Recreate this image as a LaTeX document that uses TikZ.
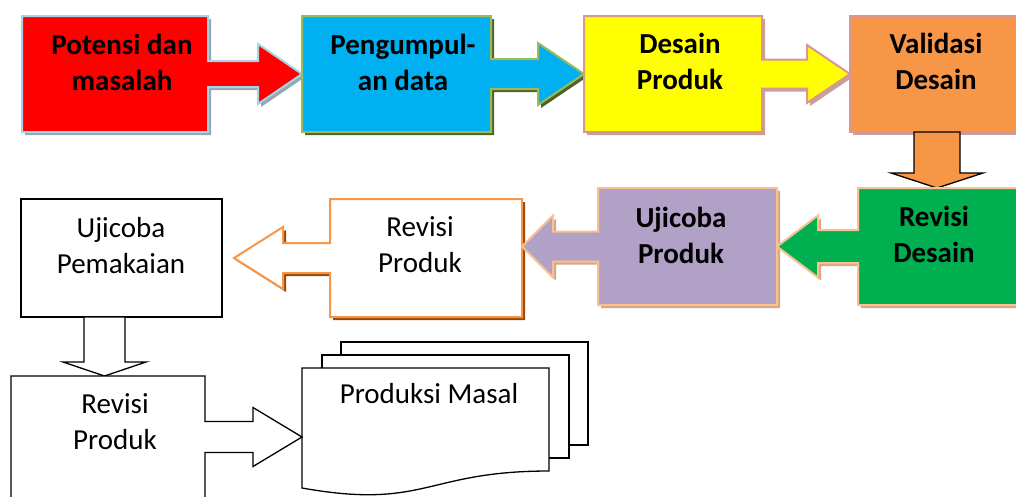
\documentclass[tikz,border=0pt]{standalone}
\usepackage{fontspec}
\setmainfont{Carlito}
\usetikzlibrary{calc,shadows}
\definecolor{redF}{HTML}{FF0000}
\definecolor{blueF}{HTML}{00B0F0}
\definecolor{yelF}{HTML}{FFFF00}
\definecolor{orF}{HTML}{F79646}
\definecolor{greF}{HTML}{00B050}
\definecolor{purF}{HTML}{B2A1C7}
\definecolor{bdBlue}{HTML}{A5D5E3}
\definecolor{shBlue}{HTML}{93A8B0}
\definecolor{bdOlive}{HTML}{9BBB59}
\definecolor{shOlive}{HTML}{4F6228}
\definecolor{bdPink}{HTML}{D99694}
\definecolor{shPink}{HTML}{C4A0A0}
\definecolor{bdPeach}{HTML}{FAC090}
\definecolor{shTan}{HTML}{D2A98A}
\definecolor{shBrown}{HTML}{984807}
\tikzset{
  geo/.style={draw=none,fill=none,inner sep=0pt,outer sep=0pt},
  colbox/.style={line width=2pt,line join=miter},
  plain/.style={draw=black,line width=1.3pt,line join=miter},
  shad/.style={drop shadow={shadow xshift=3pt,shadow yshift=-3pt,fill=#1,opacity=1}},
  txt/.style={font=\fontsize{29}{35.5}\selectfont,align=center,anchor=base,inner sep=0pt},
  btxt/.style={txt,font=\fontsize{29}{35.5}\selectfont\bfseries}
}
\begin{document}
\begin{tikzpicture}[x=1pt,y=-1pt]
\useasboundingbox (0,0) rectangle (1016,496);
\clip (0,0) rectangle (1016,496);
\fill[white] (0,0) rectangle (1016,496);
% geometry of the boxes
\node[geo,minimum width=186pt,minimum height=116pt] (b1) at (115,74) {};
\node[geo,minimum width=189pt,minimum height=116pt] (b2) at (396.5,74) {};
\node[geo,minimum width=178pt,minimum height=116pt] (b3) at (673,74) {};
\node[geo,minimum width=174pt,minimum height=116pt] (b4) at (937,74) {};
\node[geo,minimum width=162pt,minimum height=117pt] (b5) at (939,246.5) {};
\node[geo,minimum width=179pt,minimum height=117pt] (b6) at (687.5,246.5) {};
\node[geo,minimum width=192pt,minimum height=118pt] (b7) at (426,258) {};
\node[geo,minimum width=201pt,minimum height=118pt] (b8) at (121.5,258) {};
\node[geo,minimum width=194pt,minimum height=122pt] (b9) at (108,437) {};
\node[geo,minimum width=247pt,minimum height=103pt] (doc) at (425.5,419.5) {};
\coordinate (tip4) at (b4.south |- b5.north);
\coordinate (tip6) at (b7.east |- b6.west);
\coordinate (tip7) at ($(b8.east)+(12,0)$);
\coordinate (tip8) at ($(b9.north)+(-3.5,0)$);
\coordinate (s8) at (tip8 |- b8.south);
\coordinate (tip9) at (doc.west |- b9.east);
% top row
\draw[colbox,fill=redF,draw=bdBlue,shad=shBlue] (b1.north west) -- (b1.north east) -- ($(b1.east)+(0,-13)$) -- ($(b2.west)+(-44,-13)$) -- ($(b2.west)+(-44,-30)$) -- (b2.west) -- ($(b2.west)+(-44,30)$) -- ($(b2.west)+(-44,13)$) -- ($(b1.east)+(0,13)$) -- (b1.south east) -- (b1.south west) -- cycle;
\draw[colbox,fill=blueF,draw=bdOlive,shad=shOlive] (b2.north west) -- (b2.north east) -- ($(b2.east)+(0,-15)$) -- ($(b3.west)+(-46,-15)$) -- ($(b3.west)+(-46,-31)$) -- (b3.west) -- ($(b3.west)+(-46,31)$) -- ($(b3.west)+(-46,15)$) -- ($(b2.east)+(0,15)$) -- (b2.south east) -- (b2.south west) -- cycle;
\draw[colbox,fill=yelF,draw=bdPink,shad=shPink] (b3.north west) -- (b3.north east) -- ($(b3.east)+(0,-14.5)$) -- ($(b4.west)+(-43,-14.5)$) -- ($(b4.west)+(-43,-29)$) -- (b4.west) -- ($(b4.west)+(-43,29)$) -- ($(b4.west)+(-43,14.5)$) -- ($(b3.east)+(0,14.5)$) -- (b3.south east) -- (b3.south west) -- cycle;
\draw[colbox,fill=orF,draw=bdPink,shad=shPink] (b4.north west) rectangle (b4.south east);
\draw[plain,fill=orF] ($(b4.south)+(-23,0)$) -- ($(b4.south)+(-23,41)$) -- ($(b4.south)+(-46,41)$) -- (tip4) -- ($(b4.south)+(46,41)$) -- ($(b4.south)+(23,41)$) -- ($(b4.south)+(23,0)$) -- cycle;
% middle row
\draw[colbox,fill=white,draw=orF,shad=shBrown] (b7.north west) -- (b7.north east) -- (b7.south east) -- (b7.south west) -- ($(b7.west)+(0,15)$) -- ($(tip7)+(49,15)$) -- ($(tip7)+(49,31)$) -- (tip7) -- ($(tip7)+(49,-31)$) -- ($(tip7)+(49,-15)$) -- ($(b7.west)+(0,-15)$) -- cycle;
\draw[colbox,fill=purF,draw=bdPeach,shad=shTan] (b6.north west) -- (b6.north east) -- (b6.south east) -- (b6.south west) -- ($(b6.west)+(0,15)$) -- ($(tip6)+(31,15)$) -- ($(tip6)+(31,31)$) -- (tip6) -- ($(tip6)+(31,-31)$) -- ($(tip6)+(31,-15)$) -- ($(b6.west)+(0,-15)$) -- cycle;
\draw[colbox,fill=greF,draw=bdPeach,shad=shTan] (b5.north west) -- (b5.north east) -- (b5.south east) -- (b5.south west) -- ($(b5.west)+(0,16.5)$) -- ($(b6.east)+(41,16.5)$) -- ($(b6.east)+(41,31)$) -- (b6.east) -- ($(b6.east)+(41,-31)$) -- ($(b6.east)+(41,-16.5)$) -- ($(b5.west)+(0,-16.5)$) -- cycle;
% lower part
\draw[plain,fill=white] (b8.north west) rectangle (b8.south east);
\draw[plain,fill=white] ($(s8)+(-20.5,0)$) -- ($(s8)+(-20.5,45)$) -- ($(s8)+(-41.5,45)$) -- (tip8) -- ($(s8)+(41.5,45)$) -- ($(s8)+(20.5,45)$) -- ($(s8)+(20.5,0)$) -- cycle;
\draw[plain,fill=white] ($(doc.north west)+(39,-26)$) rectangle ($(doc.south east)+(39,-26)$);
\draw[plain,fill=white] ($(doc.north west)+(20,-13)$) rectangle ($(doc.south east)+(20,-13)$);
\draw[plain,fill=white] (doc.north west) -- (doc.north east) -- (doc.south east) .. controls (doc.south) and ($(doc.south)+(0,39)$) .. ($(doc.south west)+(0,17)$) -- cycle;
\draw[plain,fill=white] (b9.north west) -- (b9.north east) -- ($(b9.east)+(0,-15.5)$) -- ($(tip9)+(-49,-15.5)$) -- ($(tip9)+(-49,-29.5)$) -- (tip9) -- ($(tip9)+(-49,29.5)$) -- ($(tip9)+(-49,15.5)$) -- ($(b9.east)+(0,15.5)$) -- (b9.south east) -- (b9.south west) -- cycle;
% texts (anchor = baseline of the last line)
\node[btxt] (t1) at (122,90) {Potensi dan\\masalah};
\node[btxt] (t2) at (403,90) {Pengumpul-\\an data};
\node[btxt] (t3) at (680,89) {Desain\\Produk};
\node[btxt] (t4) at (936,89) {Validasi\\Desain};
\node[btxt] (t5) at (934,262) {Revisi\\Desain};
\node[btxt] (t6) at (681,263) {Ujicoba\\Produk};
\node[txt] (t7) at (420,272) {Revisi\\Produk};
\node[txt] (t8) at (121,273) {Ujicoba\\Pemakaian};
\node[txt] (t9) at (115,449) {Revisi\\Produk};
\node[txt] (t10) at (429,403) {Produksi Masal};
\end{tikzpicture}
\end{document}
